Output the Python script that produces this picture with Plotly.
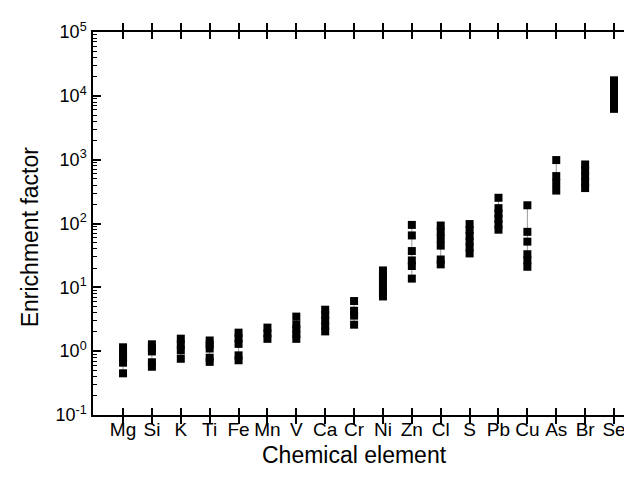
import plotly.graph_objects as go

categories = ["Mg", "Si", "K", "Ti", "Fe", "Mn", "V", "Ca", "Cr",
              "Ni", "Zn", "Cl", "S", "Pb", "Cu", "As", "Br", "Se"]

mg = [1.15, 0.93, 0.78, 0.66, 0.45]
si = [1.28, 1.12, 0.99, 0.67, 0.57]
k = [1.57, 1.27, 1.03, 0.76]
ti = [1.47, 1.27, 1.1, 0.79, 0.68]
fe = [1.95, 1.6, 1.3, 0.86, 0.72]
mn = [2.34, 1.9, 1.56]
v = [3.48, 2.62, 2.2, 1.85, 1.56]
ca = [4.46, 3.67, 3.02, 2.48, 2.04]
cr = [6.1, 4.3, 3.6, 2.6]
ni = [18.4, 15.2, 12.6, 10.5, 8.7, 7.2]
zn = [95, 65, 37, 26.4, 21.6, 13.7]
cl = [93, 74, 58, 45, 27.3, 22.9]
s = [98, 79, 64, 52, 42, 34]
pb = [253, 174, 143, 118, 97, 80]
cu = [193, 74, 52, 33, 26.5, 21]
as_ = [986, 553, 430, 328]
br = [841, 680, 550, 445, 359]
se = [17500, 14250, 11600, 9450, 7700, 6250]

series = [mg, si, k, ti, fe, mn, v, ca, cr, ni, zn, cl, s, pb, cu, as_, br, se]

y_tickvals = [0.1, 1, 10, 100, 1000, 10000, 100000]
y_ticktext = ["10<sup>-1</sup>", "10<sup>0</sup>", "10<sup>1</sup>", "10<sup>2</sup>",
              "10<sup>3</sup>", "10<sup>4</sup>", "10<sup>5</sup>"]

x_title = "Chemical element"
y_title = "Enrichment factor"

fig = go.Figure()
for cat, vals in zip(categories, series):
    fig.add_trace(go.Scatter(
        x=[cat] * len(vals), y=vals, mode="lines+markers",
        line=dict(color="#9a9a9a", width=1),
        marker=dict(symbol="square", size=8, color="black",
                    line=dict(width=0)),
        showlegend=False, hoverinfo="skip"))

# empty trace to host the secondary (right) axis
fig.add_trace(go.Scatter(x=[categories[0]], y=[None], yaxis="y2",
                         showlegend=False, hoverinfo="skip", mode="markers"))

font_family = "Liberation Sans, Arial, sans-serif"

fig.update_layout(
    width=632, height=486,
    margin=dict(l=85, r=0, t=24, b=79),
    paper_bgcolor="white", plot_bgcolor="white",
    font=dict(family=font_family, size=19, color="black"),
    xaxis=dict(
        type="category", categoryorder="array", categoryarray=categories,
        range=[-1.04, 17.9],
        showline=True, linecolor="black", linewidth=1.5, mirror="allticks",
        ticks="inside", ticklen=7, tickwidth=1.5, tickcolor="black",
        showgrid=False, zeroline=False,
        tickfont=dict(size=19),
        ticklabelstandoff=-4,
    ),
    yaxis=dict(
        type="log", range=[-1, 5],
        tickvals=y_tickvals, ticktext=y_ticktext,
        showline=True, linecolor="black", linewidth=1.5, mirror=False,
        ticks="inside", ticklen=8, tickwidth=1.5, tickcolor="black",
        minor=dict(ticks="inside", ticklen=4, tickwidth=1, tickcolor="black",
                   dtick="D1", showgrid=False),
        showgrid=False, zeroline=False,
        tickfont=dict(size=18),
        ticklabelstandoff=1,
    ),
    yaxis2=dict(
        type="log", range=[-1, 3.3], overlaying="y", side="right", anchor="x",
        showline=False,
        ticks="inside", ticklen=5, tickwidth=1.5, tickcolor="black",
        dtick=1, showticklabels=False,
        minor=dict(ticks="inside", ticklen=2, tickwidth=1, tickcolor="black",
                   dtick="D1", showgrid=False),
        showgrid=False, zeroline=False,
    ),
    annotations=[
        dict(text=x_title, xref="x", yref="paper", x=8.0, y=0,
             yshift=-40, xanchor="center", yanchor="middle",
             showarrow=False, font=dict(size=23)),
        dict(text=y_title, xref="paper", yref="paper", x=0, y=0.464,
             xshift=-63, xanchor="center", yanchor="middle", textangle=-90,
             showarrow=False, font=dict(size=23)),
    ],
)

fig.write_html("out.html")
